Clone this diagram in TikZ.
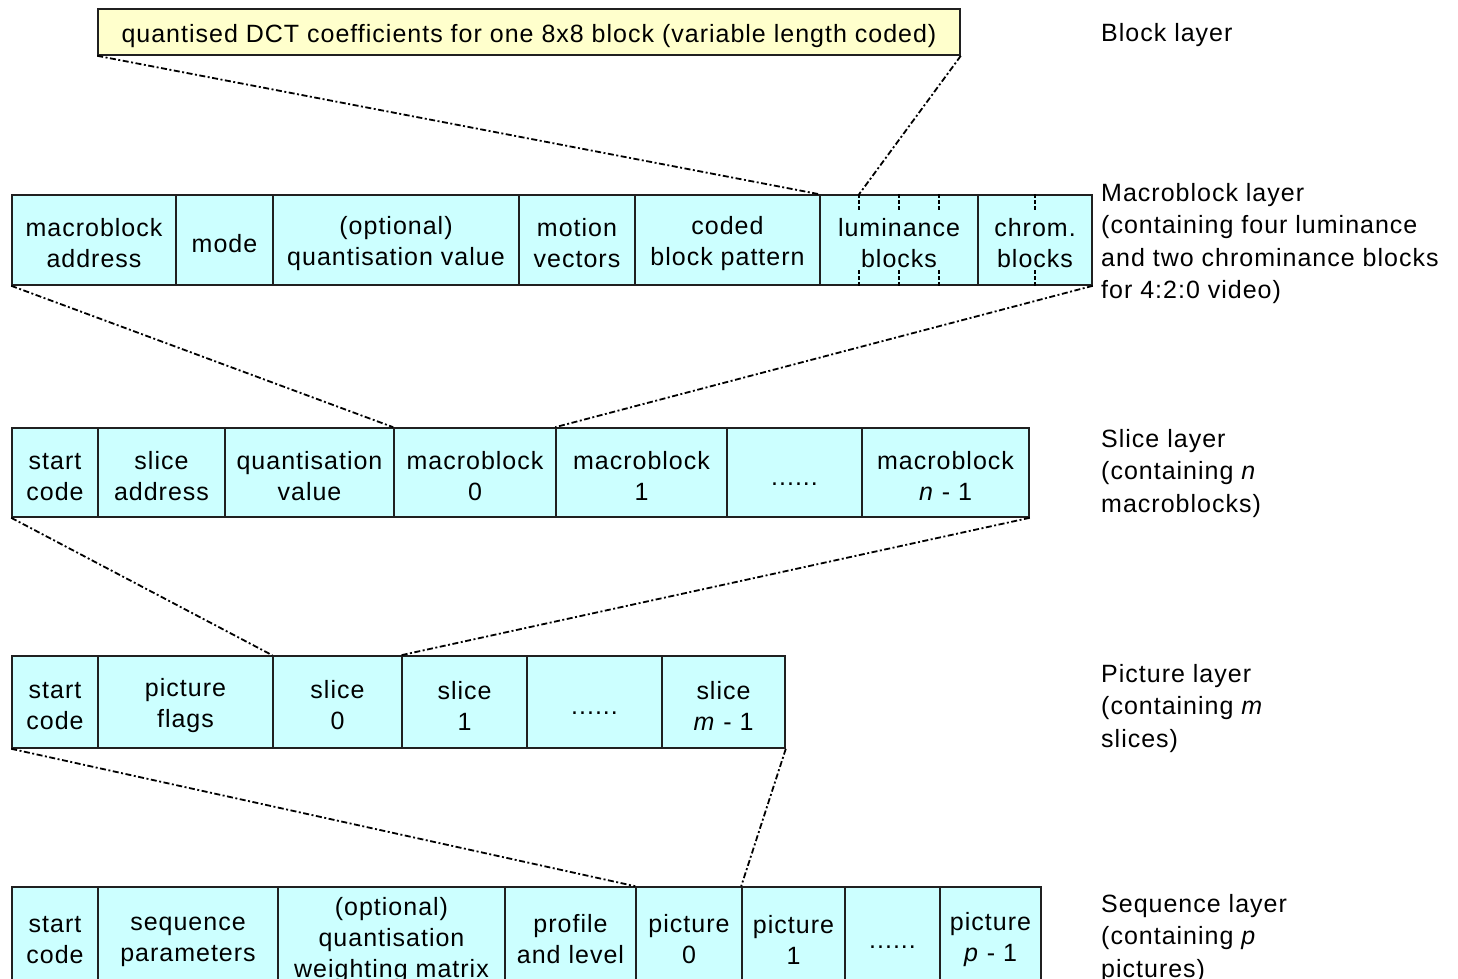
\documentclass[tikz,border=0pt]{standalone}
\usepackage{fontspec}
\setmainfont[LetterSpace=4]{Liberation Sans}
\usetikzlibrary{calc}
\definecolor{cyanfill}{HTML}{CCFFFF}
\definecolor{yellowfill}{HTML}{FFFFCC}
\definecolor{edge}{HTML}{202020}
\newcommand\cellfont{\fontsize{25}{31}\selectfont}
\newcommand\labfont{\fontsize{25}{32.5}\selectfont}
\newcommand\lift{\rule{0pt}{25.2pt}}
\newcommand\mkcell[6]{\node[cellbox, minimum width={#3-#2}, minimum height={#5-#4}] (#1) at ({(#2+#3)/2},{(#4+#5)/2}) {\lift#6};}
\begin{document}
\begin{tikzpicture}[x=1pt,y=-1pt,
  cellbox/.style={draw=edge, line width=1.6pt, fill=cyanfill, inner sep=0pt, align=center, font=\cellfont},
  link/.style={draw=black, line width=1.8pt, dash pattern=on 6pt off 2.5pt on 2pt off 2.5pt},
  tickline/.style={draw=black, line width=1.3pt, dash pattern=on 3.5pt off 2.5pt},
  layerlabel/.style={anchor=north west, align=left, inner sep=0pt, font=\labfont}]
\clip (0,0) rectangle (1458,979);
\useasboundingbox (0,0) rectangle (1458,979);

% Block layer
\node[cellbox, fill=yellowfill, minimum width=862, minimum height=46] (blk) at (529,32)
  {\lift quantised DCT coefficients for one 8x8 block (variable length coded)};

% Macroblock layer
\mkcell{mbaddr}{12}{176}{195}{285}{macroblock\\address}
\mkcell{mode}{176}{273}{195}{285}{mode}
\mkcell{mbq}{273}{519}{195}{285}{(optional)\\quantisation value}
\mkcell{mv}{519}{635}{195}{285}{motion\\vectors}
\mkcell{cbp}{635}{820}{195}{285}{coded\\block pattern}
\mkcell{lum}{820}{978}{195}{285}{luminance\\blocks}
\mkcell{chrom}{978}{1092}{195}{285}{chrom.\\blocks}

% ticks inside luminance / chrominance
\foreach \f/\n in {0.25/1,0.5/2,0.75/3}{
  \coordinate (lt\n) at ($(lum.north west)!\f!(lum.north east)$);
  \coordinate (lb\n) at ($(lum.south west)!\f!(lum.south east)$);
  \draw[tickline] (lt\n) -- ++(0,16);
  \draw[tickline] (lb\n) -- ++(0,-16);
}
\coordinate (ct) at ($(chrom.north west)!0.5!(chrom.north east)$);
\coordinate (cb) at ($(chrom.south west)!0.5!(chrom.south east)$);
\draw[tickline] (ct) -- ++(0,16);
\draw[tickline] (cb) -- ++(0,-16);

% Slice layer
\mkcell{sstart}{12}{98}{428}{517}{start\\code}
\mkcell{saddr}{98}{225}{428}{517}{slice\\address}
\mkcell{squant}{225}{394}{428}{517}{quantisation\\value}
\mkcell{smb0}{394}{556}{428}{517}{macroblock\\0}
\mkcell{smb1}{556}{727}{428}{517}{macroblock\\1}
\mkcell{sdots}{727}{862}{428}{517}{......}
\mkcell{smbn}{862}{1029}{428}{517}{macroblock\\\textit{n} - 1}

% Picture layer
\mkcell{pstart}{12}{98}{656}{748}{start\\code}
\mkcell{pflags}{98}{273}{656}{748}{picture\\flags}
\mkcell{ps0}{273}{402}{656}{748}{slice\\0}
\mkcell{ps1}{402}{527}{656}{748}{slice\\1}
\mkcell{pdots}{527}{662}{656}{748}{......}
\mkcell{psm}{662}{785}{656}{748}{slice\\\textit{m} - 1}

% Sequence layer
\mkcell{qstart}{12}{98}{887}{985}{start\\code}
\mkcell{qpar}{98}{278}{887}{985}{sequence\\parameters}
\mkcell{qmat}{278}{505}{887}{985}{(optional)\\quantisation\\weighting matrix}
\mkcell{qprof}{505}{636}{887}{985}{profile\\and level}
\mkcell{qp0}{636}{742}{887}{985}{picture\\0}
\mkcell{qp1}{742}{845}{887}{985}{picture\\1}
\mkcell{qdots}{845}{940}{887}{985}{......}
\mkcell{qpp}{940}{1041}{887}{985}{picture\\\textit{p} - 1}

% expansion connectors
\draw[link] (blk.south west) -- (lum.north west);
\draw[link] (blk.south east) -- (lt1);
\draw[link] (mbaddr.south west) -- (smb0.north west);
\draw[link] (chrom.south east) -- (smb1.north west);
\draw[link] (sstart.south west) -- (ps0.north west);
\draw[link] (smbn.south east) -- (ps1.north west);
\draw[link] (pstart.south west) -- (qp0.north west);
\draw[link] (psm.south east) -- (qp1.north west);

% layer labels
\node[layerlabel] (lblock) at (1101,23) {Block layer};
\node[layerlabel] (lmb) at (1101,183) {Macroblock layer\\(containing four luminance\\and two chrominance blocks\\for 4:2:0 video)};
\node[layerlabel] (lslice) at (1101,429) {Slice layer\\(containing \textit{n}\\macroblocks)};
\node[layerlabel] (lpic) at (1101,664) {Picture layer\\(containing \textit{m}\\slices)};
\node[layerlabel] (lseq) at (1101,894) {Sequence layer\\(containing \textit{p}\\pictures)};
\end{tikzpicture}
\end{document}
